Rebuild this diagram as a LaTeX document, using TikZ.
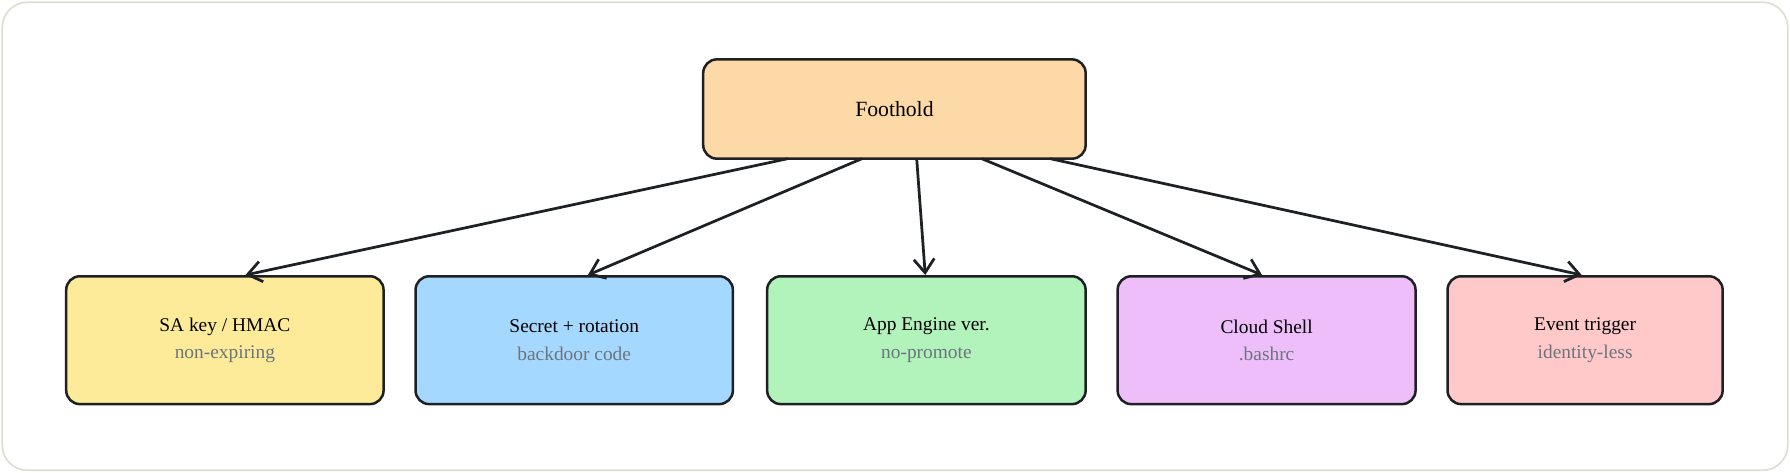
\documentclass[tikz,border=0pt]{standalone}
\usepackage{fontspec}
\setmainfont{Liberation Serif}
\usetikzlibrary{arrows.meta}
\definecolor{edge}{HTML}{1E2124}
\definecolor{sub}{HTML}{6C757D}
\tikzset{
  x=1pt,y=-1pt,
  box/.style={draw=edge,line width=2.2pt,rounded corners=12pt,minimum height=112pt,align=center,font=\fontsize{17}{24}\selectfont,inner sep=0pt},
  conn/.style={draw=edge,line width=2.4pt,-{Straight Barb[length=12pt,width=18pt,line width=2.4pt]}},
}
\begin{document}
\begin{tikzpicture}
\useasboundingbox (0,0) rectangle (1568,414);
\draw[draw={rgb,255:red,222;green,222;blue,210},line width=1.5pt,rounded corners=22pt] (2,2) rectangle (1566,412);
\node[box,fill={rgb,255:red,253;green,217;blue,168},minimum width=335pt,minimum height=87pt,font=\fontsize{19}{24}\selectfont] (foot) at (783.5,95.5) {Foothold};
\node[box,fill={rgb,255:red,253;green,235;blue,153},minimum width=278pt] (sa) at (197,298) {SA key / HMAC\\\textcolor{sub}{non-expiring}};
\node[box,fill={rgb,255:red,165;green,216;blue,255},minimum width=278pt] (sec) at (503,298) {Secret + rotation\\\textcolor{sub}{backdoor code}};
\node[box,fill={rgb,255:red,178;green,242;blue,187},minimum width=279pt] (app) at (811.5,298) {App Engine ver.\\\textcolor{sub}{no-promote}};
\node[box,fill={rgb,255:red,238;green,190;blue,250},minimum width=261pt] (cs) at (1109.5,298) {Cloud Shell\\\textcolor{sub}{.bashrc}};
\node[box,fill={rgb,255:red,255;green,201;blue,201},minimum width=241pt] (ev) at (1388.5,298) {Event trigger\\\textcolor{sub}{identity-less}};
\coordinate (f1) at (690,139);
\coordinate (f2) at (755,139);
\coordinate (f3) at (803,139);
\coordinate (f4) at (860,139);
\coordinate (f5) at (920,139);
\draw[conn] (f1) -- ([xshift=18pt]sa.north);
\draw[conn] (f2) -- ([xshift=12pt]sec.north);
\draw[conn] (f3) -- ([xshift=-1pt]app.north);
\draw[conn] (f4) -- ([xshift=-4pt]cs.north);
\draw[conn] (f5) -- ([xshift=-3pt]ev.north);
\end{tikzpicture}
\end{document}
